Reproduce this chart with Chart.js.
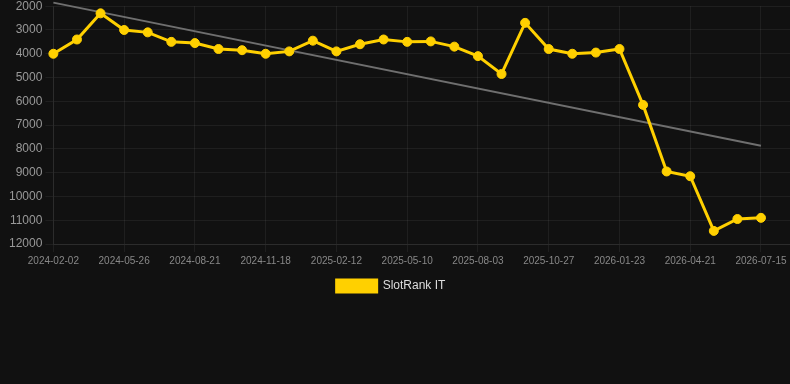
<!DOCTYPE html>
<html>
<head>
<meta charset="utf-8">
<script src="https://cdn.jsdelivr.net/npm/chart.js@4.4.1/dist/chart.umd.min.js"></script>
<style>
    html, body { margin: 0; padding: 0; background: #111111; overflow: hidden; }
    #wrap { position: relative; width: 790px; height: 306px; margin-top: -4px; }
</style>
</head>
<body>
<div id="wrap"><canvas id="rank-chart"></canvas></div>
<script>
// dates of each sample (only every 3rd is shown on the axis)
const dates = [
    '2024-02-02', '2024-03-10', '2024-04-18', '2024-05-26', '2024-06-24', '2024-07-23',
    '2024-08-21', '2024-09-20', '2024-10-19', '2024-11-18', '2024-12-16', '2025-01-14',
    '2025-02-12', '2025-03-12', '2025-04-11', '2025-05-10', '2025-06-07', '2025-07-05',
    '2025-08-03', '2025-08-31', '2025-09-28', '2025-10-27', '2025-11-25', '2025-12-24',
    '2026-01-23', '2026-02-21', '2026-03-23', '2026-04-21', '2026-05-19', '2026-06-16',
    '2026-07-15'
];
const rankValues = [
    4000, 3400, 2300, 3000, 3100, 3500, 3550, 3800, 3850, 4000, 3900,
    3450, 3900, 3600, 3400, 3500, 3480, 3700, 4100, 4850, 2700,
    3800, 4000, 3950, 3800, 6150, 8950, 9150, 11450, 10950, 10900
];
// trend line end points (first and last sample)
const trendStart = 1850;
const trendEnd = 7870;
const yTicks = [2000, 3000, 4000, 5000, 6000, 7000, 8000, 9000, 10000, 11000, 12000];

const yellow = '#ffd000';
const gridColor = 'rgba(255,255,255,0.06)';

const rankPoints = rankValues.map((v, i) => ({ x: i, y: v }));
const trendPoints = [{ x: 0, y: trendStart }, { x: dates.length - 1, y: trendEnd }];

Chart.defaults.font.family = '"Liberation Sans", Arial, Helvetica, sans-serif';

// legend sits a bit left of centre in the original
const nudgeLegend = {
    id: 'nudgeLegend',
    afterLayout(chart) {
        chart.legend.left -= 7;
        chart.legend.right -= 7;
    }
};

new Chart(document.getElementById('rank-chart').getContext('2d'), {
    type: 'line',
    data: {
        datasets: [
            {
                label: 'SlotRank IT',
                data: rankPoints,
                borderColor: yellow,
                backgroundColor: yellow,
                borderWidth: 3,
                pointRadius: 4.5,
                pointHoverRadius: 4.5,
                pointBorderWidth: 1,
                pointBackgroundColor: yellow,
                pointBorderColor: yellow,
                tension: 0,
                clip: false,
                order: 1
            },
            {
                label: 'trend',
                data: trendPoints,
                borderColor: '#6f6f6f',
                borderWidth: 2,
                pointRadius: 0,
                fill: false,
                clip: false,
                order: 2
            }
        ]
    },
    plugins: [nudgeLegend],
    options: {
        responsive: true,
        maintainAspectRatio: false,
        animation: false,
        layout: { autoPadding: false, padding: { left: 6, right: 0, top: 0, bottom: 0 } },
        plugins: {
            legend: {
                position: 'bottom',
                labels: {
                    color: '#dddddd',
                    font: { size: 12 },
                    boxWidth: 40,
                    boxHeight: 12,
                    filter: item => item.text !== 'trend'
                }
            },
            tooltip: { enabled: false }
        },
        scales: {
            x: {
                type: 'linear',
                min: 0,
                max: 31.23,
                grid: { color: gridColor },
                border: { color: gridColor },
                ticks: {
                    stepSize: 3,
                    includeBounds: false,
                    autoSkip: false,
                    maxRotation: 0,
                    color: '#888888',
                    font: { size: 10 },
                    callback: v => (Number.isInteger(v) && v % 3 === 0 && dates[v]) ? dates[v] : null
                }
            },
            y: {
                reverse: true,
                min: yTicks[0],
                max: yTicks[yTicks.length - 1],
                grid: { color: gridColor },
                border: { color: gridColor },
                ticks: {
                    stepSize: 1000,
                    color: '#999999',
                    font: { size: 12 },
                    callback: v => yTicks.includes(v) ? String(v) : null
                }
            }
        }
    }
});
</script>
</body>
</html>
